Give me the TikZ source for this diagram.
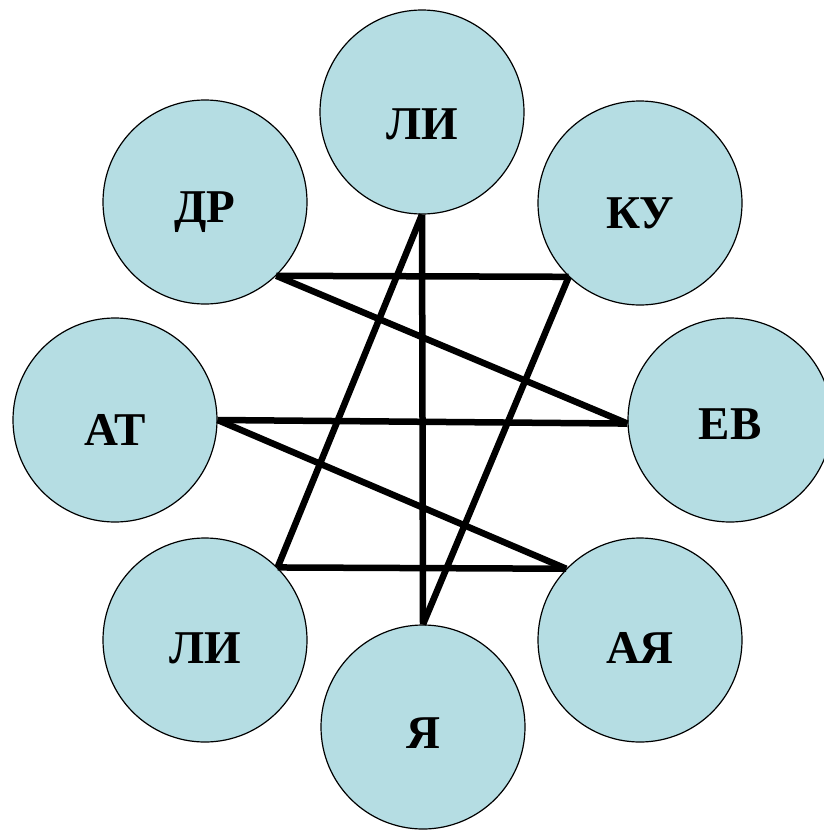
\documentclass[tikz,border=0pt]{standalone}
\usepackage{fontspec}
\setmainfont{Liberation Serif}
\definecolor{circfill}{RGB}{181,221,227}
\tikzset{
  circ/.style={circle, draw=black, line width=1.2pt, fill=circfill, minimum size=204pt, inner sep=0pt},
  lbl/.style={font=\fontsize{47}{50}\selectfont\bfseries, inner sep=0pt},
  link/.style={draw=black, line width=6.5pt}
}
\begin{document}
\begin{tikzpicture}[x=1pt,y=-1pt]
\useasboundingbox (0,0) rectangle (823,830);
\fill[white] (0,0) rectangle (823,830);
\node[circ] (li1) at (422,112) {};
\node[circ] (dr)  at (205,202) {};
\node[circ] (ku)  at (640,203) {};
\node[circ] (at)  at (115,420) {};
\node[circ] (ev)  at (730,420) {};
\node[circ] (li2) at (205,640) {};
\node[circ] (ay)  at (640,640) {};
\node[circ] (ya)  at (423,727) {};
\node[lbl] (li1t) at ([yshift=-12pt]li1.center) {ЛИ};
\node[lbl] (drt)  at ([yshift=-10pt]dr.center) {ДР};
\node[lbl] (kut)  at ([yshift=-10pt]ku.center) {КУ};
\node[lbl] (att)  at ([yshift=-10pt]at.center) {АТ};
\node[lbl] (evt)  at ([yshift=-4pt]ev.center) {ЕВ};
\node[lbl] (li2t) at ([yshift=-8pt]li2.center) {ЛИ};
\node[lbl] (ayt)  at ([yshift=-8pt]ay.center) {АЯ};
\node[lbl] (yat)  at ([yshift=-6pt]ya.center) {Я};
\draw[link] (li1.south) -- (ya.north);
\draw[link] (li1.south) -- (li2.45);
\draw[link] (dr.-46) -- (ku.-134);
\draw[link] (ku.-134) -- (ya.north);
\draw[link] (dr.-46) -- (ev.182);
\draw[link] (at.east) -- (ev.182);
\draw[link] (at.east) -- (ay.136);
\draw[link] (li2.45) -- (ay.136);
\end{tikzpicture}
\end{document}
